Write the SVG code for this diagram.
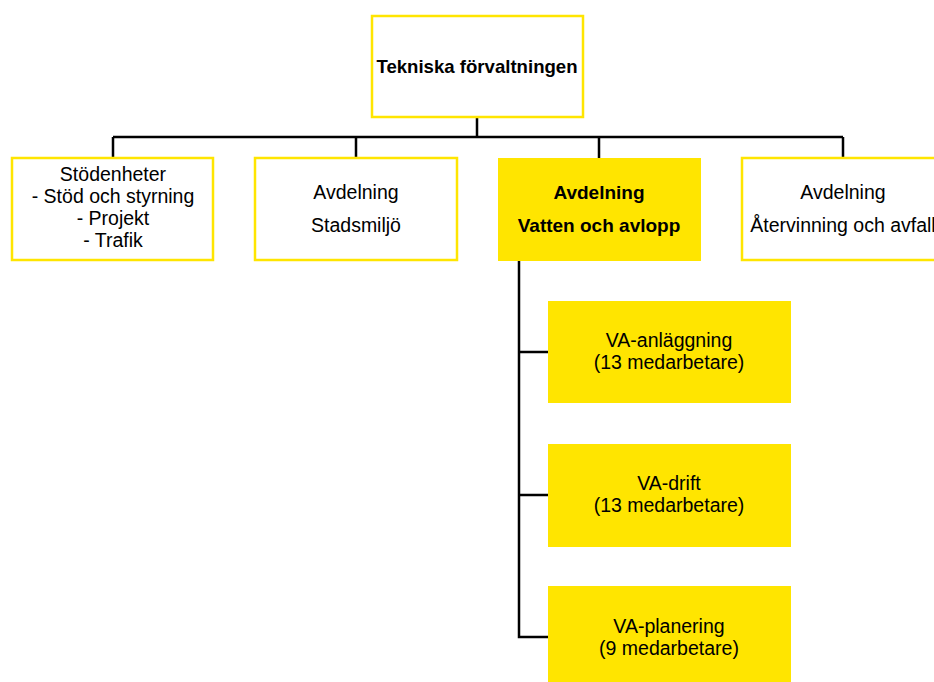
<svg xmlns="http://www.w3.org/2000/svg" width="934" height="682" viewBox="0 0 934 682">
<style>
.box{fill:#fff;stroke:#FFE500;stroke-width:2.5}
.fill{fill:#FFE500;stroke:none}
.t{font-family:"Liberation Sans",Arial,sans-serif;font-size:19.5px;fill:#000;text-anchor:middle}
.b{font-weight:bold;font-size:19px}
.c{fill:none;stroke:#000;stroke-width:2.5}
</style>
<rect width="934" height="682" fill="#fff"/>
<g id="connectors">
<path class="c" d="M477 117V137M113 137H843M113 137V158M356 137V158M599 137V158M843 137V158"/>
<path class="c" d="M519 261V637H548M519 352H548M519 495H548"/>
</g>
<g id="n-top">
<rect class="box" x="372" y="16" width="211" height="101"/>
<text class="t b" x="477" y="73" style="font-size:18.6px">Tekniska förvaltningen</text>
</g>
<g id="n-stod">
<rect class="box" x="12" y="158" width="201" height="102"/>
<text class="t" x="113" y="181">Stödenheter</text>
<text class="t" x="113" y="203">- Stöd och styrning</text>
<text class="t" x="113" y="225">- Projekt</text>
<text class="t" x="113" y="247">- Trafik</text>
</g>
<g id="n-stadsmiljo">
<rect class="box" x="255" y="158" width="202" height="102"/>
<text class="t" x="356" y="199">Avdelning</text>
<text class="t" x="356" y="232">Stadsmiljö</text>
</g>
<g id="n-va">
<rect class="fill" x="498" y="158" width="203" height="103"/>
<text class="t b" x="599" y="199">Avdelning</text>
<text class="t b" x="599" y="232">Vatten och avlopp</text>
</g>
<g id="n-atervinning">
<rect class="box" x="742" y="158" width="202" height="102"/>
<text class="t" x="843" y="199">Avdelning</text>
<text class="t" x="843" y="232">Återvinning och avfall</text>
</g>
<g id="n-anlaggning">
<rect class="fill" x="548" y="301" width="243" height="102"/>
<text class="t" x="669" y="347">VA-anläggning</text>
<text class="t" x="669" y="369">(13 medarbetare)</text>
</g>
<g id="n-drift">
<rect class="fill" x="548" y="444" width="243" height="103"/>
<text class="t" x="669" y="490">VA-drift</text>
<text class="t" x="669" y="512">(13 medarbetare)</text>
</g>
<g id="n-planering">
<rect class="fill" x="548" y="586" width="243" height="102"/>
<text class="t" x="669" y="633">VA-planering</text>
<text class="t" x="669" y="655">(9 medarbetare)</text>
</g>
</svg>
